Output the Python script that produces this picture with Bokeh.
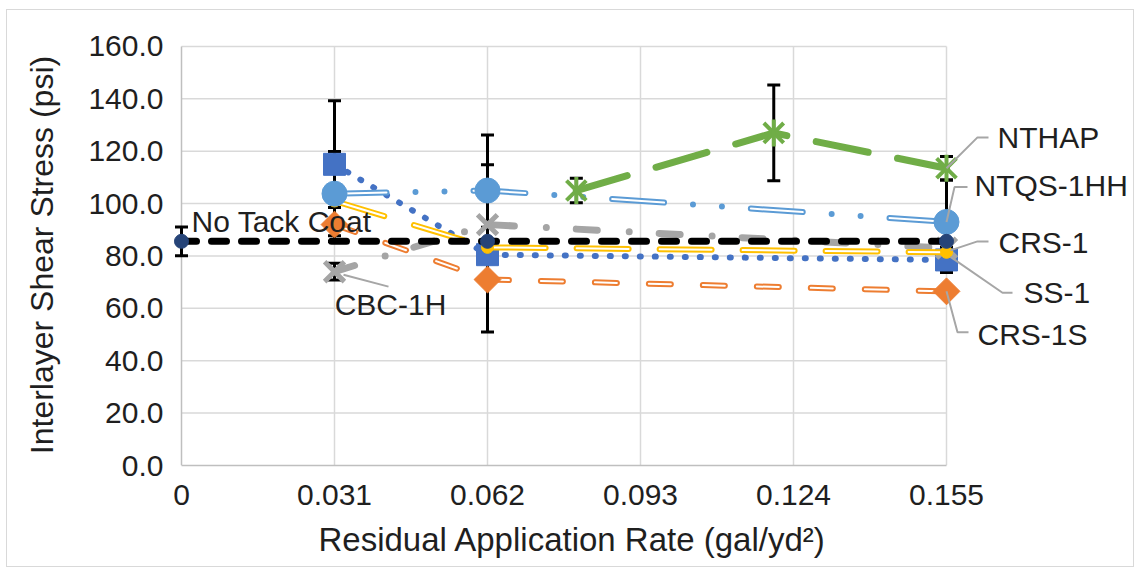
import math
from bokeh.plotting import figure
from bokeh.models import Range1d, FixedTicker, PrintfTickFormatter, Title
from bokeh.embed import file_html
from bokeh.resources import INLINE
from bokeh.core.properties import value

# ---------------- data ----------------
x_ticks = [0, 0.031, 0.062, 0.093, 0.124, 0.155]
x_tick_labels = ["0", "0.031", "0.062", "0.093", "0.124", "0.155"]
y_ticks = [0, 20, 40, 60, 80, 100, 120, 140, 160]

ss1_x = [0.031, 0.062, 0.155]
ss1_y = [115.0, 80.5, 78.5]
ss1_err = [24.3, 3.0, 4.8]

crs1s_x = [0.031, 0.062, 0.155]
crs1s_y = [92.0, 71.0, 66.5]
crs1s_err = [6.5, 20.0, 0.0]

cbc_x = [0.031, 0.062, 0.155]
cbc_y = [74.0, 92.0, 83.0]
cbc_err = [3.2, 22.8, 0.0]

crs1_x = [0.031, 0.062, 0.155]
crs1_y = [101.0, 83.3, 81.4]
crs1_err = [0.0, 0.0, 0.0]

ntqs_x = [0.031, 0.062, 0.155]
ntqs_y = [103.8, 105.0, 93.0]
ntqs_err = [16.1, 21.2, 16.0]

nthap_x = [0.08, 0.12, 0.155]
nthap_y = [105.0, 127.0, 113.5]
nthap_err = [4.7, 18.3, 4.5]

ntc_x = [0.0, 0.062, 0.155]
ntc_y = [85.6, 85.6, 85.6]
ntc_err = [5.5, 0.0, 0.0]

x_title = "Residual Application Rate (gal/yd\u00b2)"
y_title = "Interlayer Shear Stress (psi)"

FONT_NAME = "Liberation Sans"
FONT = value(FONT_NAME)
TXT = "#1f1f1f"
GRID = "#d9d9d9"
AXIS = "#bfbfbf"

# pixel scale of the data area (0..0.155 over 765 px, 0..160 over 421 px)
PW, PH = 765, 421
XMAX, YMAX = x_ticks[-1], y_ticks[-1]
DX = XMAX / PW
DY = YMAX / PH
PAD_L, PAD_R, PAD_T = 10, 189, 2          # extra px around the data area inside the frame
x_start, x_end = -PAD_L * DX, XMAX + PAD_R * DX
y_start, y_end = 0, YMAX + PAD_T * DY
FRAME_W = PAD_L + PW + PAD_R
FRAME_H = PH + PAD_T
BL, BT, BB = 164, 34, 101


def off(x, y, dxp, dyp):
    return x + dxp * DX, y - dyp * DY


p = figure(width=BL + FRAME_W, height=BT + FRAME_H + BB,
           x_range=Range1d(x_start, x_end), y_range=Range1d(y_start, y_end),
           output_backend="svg", toolbar_location=None,
           min_border_left=BL, min_border_right=0, min_border_top=BT, min_border_bottom=BB)
p.outline_line_color = None
p.background_fill_color = "white"
p.border_fill_color = "white"
p.styles = {"border": "1px solid #d9d9d9", "margin-left": "6px", "margin-top": "9px"}
p.xgrid.visible = False
p.ygrid.visible = False

# axes
p.xaxis.ticker = FixedTicker(ticks=x_ticks)
p.xaxis.formatter = PrintfTickFormatter(format="%g")
p.xaxis.major_label_overrides = {t: l for t, l in zip(x_ticks, x_tick_labels)}
p.xaxis.bounds = (x_ticks[0], x_ticks[-1])
p.yaxis.ticker = FixedTicker(ticks=y_ticks)
p.yaxis.formatter = PrintfTickFormatter(format="%.1f")
for ax in (p.xaxis[0], p.yaxis[0]):
    ax.major_tick_line_color = None
    ax.minor_tick_line_color = None
    ax.major_tick_out = 0
    ax.major_tick_in = 0
    ax.major_label_text_font = FONT_NAME
    ax.major_label_text_font_size = "30px"
    ax.major_label_text_color = TXT
    ax.axis_label_text_font = FONT_NAME
    ax.axis_label_text_font_size = "32px"
    ax.axis_label_text_font_style = "normal"
    ax.axis_label_text_color = TXT
p.xaxis.axis_line_color = AXIS
p.xaxis.axis_line_width = 1.5
p.yaxis.axis_line_color = None
p.yaxis.axis_label = y_title
p.xaxis.major_label_standoff = 19
p.yaxis.major_label_standoff = 8
p.yaxis.axis_label_standoff = 25

# x-axis title placed as in the reference (slightly right of the data-area centre)
p.add_layout(Title(text=x_title, align="left", offset=147, standoff=22,
                   text_font=FONT_NAME, text_font_size="33px", text_font_style="normal",
                   text_color=TXT), "below")

# grid lines (limited to the data area)
p.segment(x0=[0] * len(y_ticks[1:]), y0=y_ticks[1:], x1=[XMAX] * len(y_ticks[1:]), y1=y_ticks[1:],
          line_color=GRID, line_width=1.5)
p.segment(x0=x_ticks[1:], y0=[0] * len(x_ticks[1:]), x1=x_ticks[1:], y1=[YMAX] * len(x_ticks[1:]),
          line_color=GRID, line_width=1.5)
p.segment(x0=[0], y0=[0], x1=[0], y1=[YMAX], line_color=AXIS, line_width=1.5)

# ---------------- error bars ----------------
all_series = [
    (ss1_x, ss1_y, ss1_err),
    (crs1s_x, crs1s_y, crs1s_err),
    (cbc_x, cbc_y, cbc_err),
    (crs1_x, crs1_y, crs1_err),
    (ntqs_x, ntqs_y, ntqs_err),
    (nthap_x, nthap_y, nthap_err),
    (ntc_x, ntc_y, ntc_err),
]
for xs, ys, es in all_series:
    bx = [x for x, e in zip(xs, es) if e > 0]
    lo = [y - e for y, e in zip(ys, es) if e > 0]
    hi = [y + e for y, e in zip(ys, es) if e > 0]
    if not bx:
        continue
    p.segment(x0=bx, y0=lo, x1=bx, y1=hi, line_color="black", line_width=3)
    p.scatter(x=bx + bx, y=lo + hi, marker="dash", size=13, line_color="black", line_width=3)


# ---------------- series ----------------
def draw_line(xs, ys, color, width, dash, inner_dash=None):
    p.line(xs, ys, line_color=color, line_width=width, line_dash=dash,
           line_cap="round", line_join="round")
    if inner_dash is not None:
        p.line(xs, ys, line_color="white", line_width=2, line_dash=inner_dash,
               line_cap="round", line_join="round")


# SS-1 (blue, dotted, squares)
draw_line(ss1_x, ss1_y, "#4472c4", 6, "1 14")
p.scatter(ss1_x, ss1_y, marker="square", size=22, fill_color="#4472c4", line_color="#4472c4")

# CRS-1S (orange, hollow dash, diamonds)
draw_line(crs1s_x, crs1s_y, "#ed7d31", 6, "22 32", "22 32")
p.scatter(crs1s_x, crs1s_y, marker="square", angle=math.pi / 4, size=19,
          fill_color="#ed7d31", line_color="#ed7d31")

# CBC-1H (gray, dash-dot, x)
draw_line(cbc_x, cbc_y, "#a5a5a5", 7, "21 32 0 30")
p.scatter(cbc_x, cbc_y, marker="x", size=28, line_color="#a5a5a5", line_width=5)

# CRS-1 (gold, hollow long dash, small circles)
draw_line(crs1_x, crs1_y, "#ffc000", 6, "52 31", "52 31")
p.scatter(crs1_x, crs1_y, marker="circle", size=12, fill_color="#ffc000", line_color="#ffc000")

# NTQS-1HH (light blue, hollow long dash dot dot, circles)
draw_line(ntqs_x, ntqs_y, "#5b9bd5", 6, "52 29 0 29 0 29", "52 87")
p.scatter(ntqs_x, ntqs_y, marker="circle", size=25, fill_color="#5b9bd5", line_color="#5b9bd5")

# NTHAP (green, long dash, star = x plus vertical bar)
draw_line(nthap_x, nthap_y, "#70ad47", 7, "53 30")
p.scatter(nthap_x, nthap_y, marker="x", size=28, line_color="#70ad47", line_width=4)
p.scatter(nthap_x, nthap_y, marker="dash", angle=math.pi / 2, size=27,
          line_color="#70ad47", line_width=4)

# No Tack Coat (black dashed, navy dots)
draw_line(ntc_x, ntc_y, "black", 7, "15 15")
p.scatter(ntc_x, ntc_y, marker="circle", size=14, fill_color="#264478", line_color="#264478")

# ---------------- data labels ----------------
# (text, anchor x, anchor y, text offset px, leader offsets px, align)
labels = [
    ("NTHAP", nthap_x[-1], nthap_y[-1], (51, -31), [(0, 0), (31, -31), (42, -31)], "left"),
    ("NTQS-1HH", ntqs_x[-1], ntqs_y[-1], (28, -37), [(0, 0), (8, -35), (21, -35)], "left"),
    ("CRS-1", crs1_x[-1], crs1_y[-1], (52, -10), [(4, -2), (31, -11), (42, -11)], "left"),
    ("SS-1", ss1_x[-1], ss1_y[-1], (77, 33), [(4, -3), (56, 33), (66, 33)], "left"),
    ("CRS-1S", crs1s_x[-1], crs1s_y[-1], (31, 43), [(0, 0), (11, 41), (22, 41)], "left"),
    ("CBC-1H", cbc_x[0], cbc_y[0], (56, 33), [(9, 3), (54, 15)], "center"),
]
for text, ax_, ay_, (tdx, tdy), leader, align in labels:
    lx, ly = zip(*[off(ax_, ay_, dx, dy) for dx, dy in leader])
    p.line(list(lx), list(ly), line_color="#a6a6a6", line_width=2)
for text, ax_, ay_, (tdx, tdy), leader, align in labels:
    tx, ty = off(ax_, ay_, tdx, tdy)
    p.text(x=[tx], y=[ty], text=[text], text_font=FONT, text_font_size="30px",
           text_color=TXT, text_align=align, text_baseline="middle")

tx, ty = off(ntc_x[0], ntc_y[0], 10, -20)
p.text(x=[tx], y=[ty], text=["No Tack Coat"], text_font=FONT, text_font_size="30px",
       text_color=TXT, text_align="left", text_baseline="middle")

open("out.html", "w").write(file_html(p, INLINE))
